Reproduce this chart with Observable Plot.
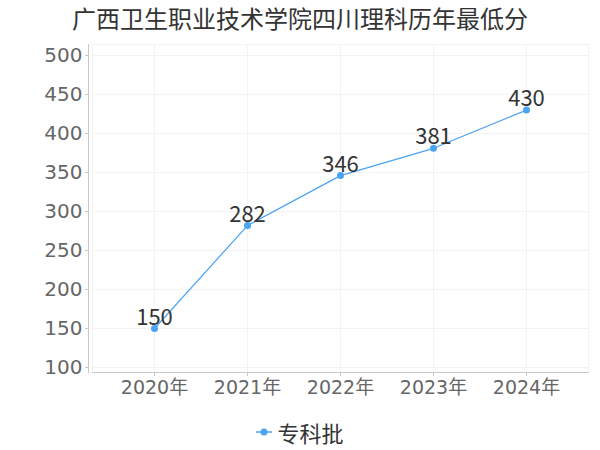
<!DOCTYPE html>
<html>
<head>
<meta charset="utf-8">
<script src="https://cdn.jsdelivr.net/npm/d3@7"></script>
<script src="https://cdn.jsdelivr.net/npm/@observablehq/plot@0.6"></script>
<style>
  body { margin: 0; background: #fff; width: 600px; height: 450px; overflow: hidden; }
  #title { height: 38px; line-height: 36px; text-align: center; font-family: "Noto Sans CJK SC", sans-serif; font-size: 24px; color: #333; }
  #legend { height: 37px; display: flex; justify-content: center; align-items: center; font-family: "Noto Sans CJK SC", sans-serif; font-size: 22px; color: #333; }
  #legend svg { margin-right: 5px; }
</style>
</head>
<body>
<div id="title">广西卫生职业技术学院四川理科历年最低分</div>
<div id="chart"></div>
<div id="legend"><svg width="16" height="10"><line x1="0" y1="5" x2="16" y2="5" stroke="#4aa3f5" stroke-width="1.5"/><circle cx="8" cy="5" r="3.5" fill="#4aa3f5"/></svg><span>专科批</span></div>
<script>
const years = ["2020年", "2021年", "2022年", "2023年", "2024年"];
const scores = [150, 282, 346, 381, 430];
const yTicks = [100, 150, 200, 250, 300, 350, 400, 450, 500];
const seriesName = "专科批";

const data = years.map((y, i) => ({year: y, score: scores[i], series: seriesName}));
const color = "#4aa3f5";

const chart = Plot.plot({
  width: 600,
  height: 375,
  marginLeft: 92,
  marginRight: 12,
  marginTop: 6,
  marginBottom: 41,
  insetTop: 11,
  insetBottom: 5,
  style: {fontFamily: "'DejaVu Sans', 'Noto Sans CJK SC', sans-serif", fontSize: "18px", background: "#fff"},
  x: {type: "point", domain: years, padding: 0.64, label: null},
  y: {domain: [100, 500], label: null},
  marks: [
    Plot.frame({stroke: "#f2f2f2"}),
    Plot.gridY(yTicks, {stroke: "#f3f3f3", strokeOpacity: 1}),
    Plot.gridX(years, {stroke: "#f3f3f3", strokeOpacity: 1}),
    Plot.frame({anchor: "left", dx: -4, stroke: "#c8c8c8"}),
    Plot.frame({anchor: "bottom", stroke: "#c8c8c8"}),
    Plot.axisY(yTicks, {dx: -4, tickSize: 3, tickPadding: 3, stroke: "#c8c8c8", fill: "#666", fontSize: 20, label: null}),
    Plot.axisX(years, {tickSize: 4, tickPadding: 4, stroke: "#c8c8c8", fill: "#666", fontSize: 19, label: null}),
    Plot.line(data, {x: "year", y: "score", stroke: color, strokeWidth: 1.2}),
    Plot.dot(data, {x: "year", y: "score", r: 3.5, fill: color, stroke: null}),
    Plot.text(data, {x: "year", y: "score", text: d => String(d.score), lineAnchor: "bottom", dy: -4, fill: "#333", fontSize: 22, fontFamily: "'Noto Sans CJK SC', sans-serif"})
  ]
});
document.getElementById("chart").appendChild(chart);
</script>
</body>
</html>
